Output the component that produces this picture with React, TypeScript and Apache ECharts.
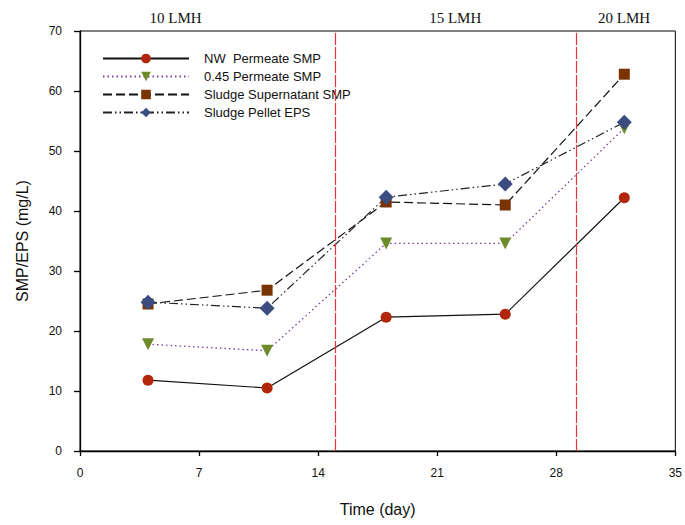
import React, { useEffect, useRef } from "react";
import * as echarts from "echarts";

const days = [4, 11, 18, 25, 32];
const nwPermeate = [11.8, 10.5, 22.3, 22.8, 42.2];
const permeate045 = [17.8, 16.7, 34.6, 34.6, 53.8];
const supernatant = [24.5, 26.8, 41.5, 41.0, 62.8];
const pelletEps = [24.8, 23.8, 42.3, 44.5, 54.8];
const fluxChanges = [15, 29.2];
const fluxLabels = ["10 LMH", "15 LMH", "20 LMH"];
const fluxLabelDays = [5.6, 22, 31.9];

const pairs = (ys: number[]) => days.map((d, i) => [d, ys[i]]);

export default function App() {
  const ref = useRef<HTMLDivElement>(null);
  useEffect(() => {
    const chart = echarts.init(ref.current!, null, { renderer: "svg" });
    const font = "Arial, 'Liberation Sans', sans-serif";
    chart.setOption({
      animation: false,
      backgroundColor: "#fff",
      grid: { left: 80, right: 8, top: 31, bottom: 74, show: true, borderColor: "#000", borderWidth: 1 },
      legend: {
        orient: "vertical",
        left: 97,
        top: 47,
        itemWidth: 86,
        itemHeight: 12,
        itemGap: 5,
        textStyle: { fontFamily: font, fontSize: 13, color: "#111", padding: [0, 0, 0, 10] },
        data: ["NW  Permeate SMP", "0.45 Permeate SMP", "Sludge Supernatant SMP", "Sludge Pellet EPS"],
      },
      xAxis: {
        type: "value",
        min: 0,
        max: 35,
        interval: 7,
        name: "Time (day)",
        nameLocation: "middle",
        nameGap: 50,
        nameTextStyle: { fontFamily: font, fontSize: 16, color: "#111" },
        axisLine: { show: true, lineStyle: { color: "#000", width: 1.3 } },
        axisTick: { show: true, inside: false, length: 5, lineStyle: { color: "#000", width: 1.3 } },
        axisLabel: { fontFamily: font, fontSize: 12, color: "#111", margin: 16 },
        splitLine: { show: false },
      },
      yAxis: {
        type: "value",
        min: 0,
        max: 70,
        interval: 10,
        name: "SMP/EPS (mg/L)",
        nameLocation: "middle",
        nameGap: 50,
        nameTextStyle: { fontFamily: font, fontSize: 16, color: "#111" },
        axisLine: { show: true, lineStyle: { color: "#000", width: 1.3 } },
        axisTick: { show: true, inside: false, length: 6, lineStyle: { color: "#000", width: 1.3 } },
        axisLabel: { fontFamily: font, fontSize: 12, color: "#111", margin: 18 },
        splitLine: { show: false },
      },
      graphic: fluxLabels.map((t, i) => ({
        type: "text",
        x: 80 + (fluxLabelDays[i] / 35) * 597,
        y: 18,
        style: {
          text: t,
          font: "15px 'Liberation Serif', 'Times New Roman', serif",
          fill: "#111",
          align: "center",
          verticalAlign: "middle",
        },
      })),
      series: [
        {
          name: "NW  Permeate SMP",
          type: "line",
          data: pairs(nwPermeate),
          symbol: "circle",
          symbolSize: 11,
          itemStyle: { color: "#B2260C" },
          lineStyle: { color: "#111", width: 1.2, type: "solid" },
          markLine: {
            silent: true,
            symbol: "none",
            label: { show: false },
            lineStyle: { color: "#E8333B", width: 1.2, type: [12, 2] },
            data: fluxChanges.map((x) => ({ xAxis: x })),
          },
        },
        {
          name: "0.45 Permeate SMP",
          type: "line",
          data: pairs(permeate045),
          symbol: "triangle",
          symbolRotate: 180,
          symbolSize: 12,
          itemStyle: { color: "#6E8B2A" },
          lineStyle: { color: "#7A3FA0", width: 1.3, type: [1.5, 3] },
        },
        {
          name: "Sludge Supernatant SMP",
          type: "line",
          data: pairs(supernatant),
          symbol: "rect",
          symbolSize: 11,
          itemStyle: { color: "#7A3404" },
          lineStyle: { color: "#111", width: 1.2, type: [9, 4] },
        },
        {
          name: "Sludge Pellet EPS",
          type: "line",
          data: pairs(pelletEps),
          symbol: "diamond",
          symbolSize: 15,
          itemStyle: { color: "#3B4C80" },
          lineStyle: { color: "#222", width: 1.2, type: [9, 3, 1.5, 3, 1.5, 3] },
        },
      ],
    });
    return () => chart.dispose();
  }, []);
  return <div ref={ref} style={{ width: 685, height: 525, position: "absolute", left: 0, top: 0 }} />;
}
